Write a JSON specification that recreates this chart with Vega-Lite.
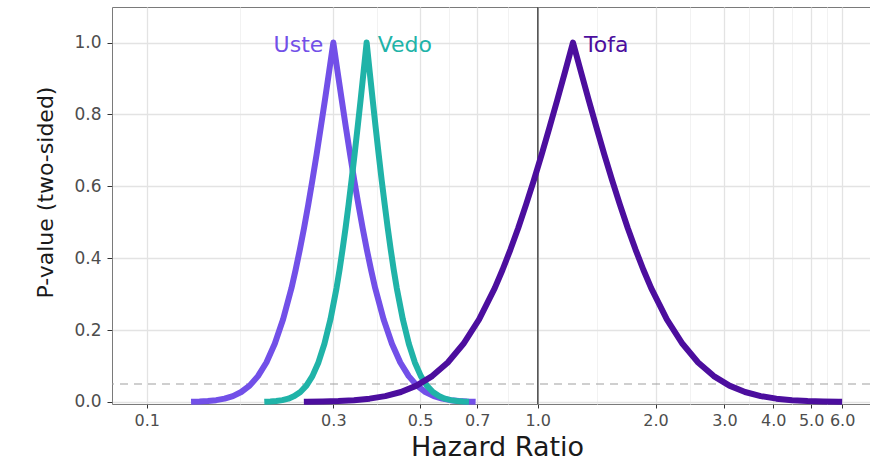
{
  "$schema": "https://vega.github.io/schema/vega-lite/v6.json",
  "width": 758,
  "height": 397,
  "autosize": {"type": "none"},
  "padding": {"left": 112, "top": 7, "right": 0, "bottom": 58},
  "background": "white",
  "config": {
    "font": "DejaVu Sans",
    "view": {"stroke": "#7a7a7a", "strokeWidth": 1}
  },
  "datasets": {
    "curves": [
      {"drug": "Uste", "hr": 0.1298, "p": 0.0007},
      {"drug": "Uste", "hr": 0.1364, "p": 0.0014},
      {"drug": "Uste", "hr": 0.1433, "p": 0.0027},
      {"drug": "Uste", "hr": 0.1505, "p": 0.0051},
      {"drug": "Uste", "hr": 0.1581, "p": 0.0093},
      {"drug": "Uste", "hr": 0.1661, "p": 0.0164},
      {"drug": "Uste", "hr": 0.1744, "p": 0.0278},
      {"drug": "Uste", "hr": 0.1833, "p": 0.0455},
      {"drug": "Uste", "hr": 0.1925, "p": 0.072},
      {"drug": "Uste", "hr": 0.2023, "p": 0.110},
      {"drug": "Uste", "hr": 0.2125, "p": 0.162},
      {"drug": "Uste", "hr": 0.2232, "p": 0.230},
      {"drug": "Uste", "hr": 0.2345, "p": 0.317},
      {"drug": "Uste", "hr": 0.2403, "p": 0.368},
      {"drug": "Uste", "hr": 0.2463, "p": 0.424},
      {"drug": "Uste", "hr": 0.2525, "p": 0.484},
      {"drug": "Uste", "hr": 0.2588, "p": 0.549},
      {"drug": "Uste", "hr": 0.2652, "p": 0.617},
      {"drug": "Uste", "hr": 0.2719, "p": 0.689},
      {"drug": "Uste", "hr": 0.2786, "p": 0.764},
      {"drug": "Uste", "hr": 0.2856, "p": 0.841},
      {"drug": "Uste", "hr": 0.2927, "p": 0.920},
      {"drug": "Uste", "hr": 0.3, "p": 1.0},
      {"drug": "Uste", "hr": 0.3075, "p": 0.920},
      {"drug": "Uste", "hr": 0.3152, "p": 0.841},
      {"drug": "Uste", "hr": 0.3230, "p": 0.764},
      {"drug": "Uste", "hr": 0.3311, "p": 0.689},
      {"drug": "Uste", "hr": 0.3393, "p": 0.617},
      {"drug": "Uste", "hr": 0.3478, "p": 0.549},
      {"drug": "Uste", "hr": 0.3565, "p": 0.484},
      {"drug": "Uste", "hr": 0.3654, "p": 0.424},
      {"drug": "Uste", "hr": 0.3745, "p": 0.368},
      {"drug": "Uste", "hr": 0.3838, "p": 0.317},
      {"drug": "Uste", "hr": 0.4032, "p": 0.230},
      {"drug": "Uste", "hr": 0.4236, "p": 0.162},
      {"drug": "Uste", "hr": 0.4450, "p": 0.110},
      {"drug": "Uste", "hr": 0.4675, "p": 0.072},
      {"drug": "Uste", "hr": 0.4910, "p": 0.0455},
      {"drug": "Uste", "hr": 0.5159, "p": 0.0278},
      {"drug": "Uste", "hr": 0.5420, "p": 0.0164},
      {"drug": "Uste", "hr": 0.5693, "p": 0.0093},
      {"drug": "Uste", "hr": 0.5981, "p": 0.0051},
      {"drug": "Uste", "hr": 0.6282, "p": 0.0027},
      {"drug": "Uste", "hr": 0.6599, "p": 0.0014},
      {"drug": "Uste", "hr": 0.6933, "p": 0.0007},
      {"drug": "Vedo", "hr": 0.1998, "p": 0.0007},
      {"drug": "Vedo", "hr": 0.2070, "p": 0.0014},
      {"drug": "Vedo", "hr": 0.2144, "p": 0.0027},
      {"drug": "Vedo", "hr": 0.2222, "p": 0.0051},
      {"drug": "Vedo", "hr": 0.2302, "p": 0.0093},
      {"drug": "Vedo", "hr": 0.2385, "p": 0.0164},
      {"drug": "Vedo", "hr": 0.2471, "p": 0.0278},
      {"drug": "Vedo", "hr": 0.2560, "p": 0.0455},
      {"drug": "Vedo", "hr": 0.2652, "p": 0.072},
      {"drug": "Vedo", "hr": 0.2748, "p": 0.110},
      {"drug": "Vedo", "hr": 0.2847, "p": 0.162},
      {"drug": "Vedo", "hr": 0.2950, "p": 0.230},
      {"drug": "Vedo", "hr": 0.3057, "p": 0.317},
      {"drug": "Vedo", "hr": 0.3112, "p": 0.368},
      {"drug": "Vedo", "hr": 0.3167, "p": 0.424},
      {"drug": "Vedo", "hr": 0.3224, "p": 0.484},
      {"drug": "Vedo", "hr": 0.3282, "p": 0.549},
      {"drug": "Vedo", "hr": 0.3340, "p": 0.617},
      {"drug": "Vedo", "hr": 0.3400, "p": 0.689},
      {"drug": "Vedo", "hr": 0.3461, "p": 0.764},
      {"drug": "Vedo", "hr": 0.3523, "p": 0.841},
      {"drug": "Vedo", "hr": 0.3586, "p": 0.920},
      {"drug": "Vedo", "hr": 0.365, "p": 1.0},
      {"drug": "Vedo", "hr": 0.3715, "p": 0.920},
      {"drug": "Vedo", "hr": 0.3782, "p": 0.841},
      {"drug": "Vedo", "hr": 0.3849, "p": 0.764},
      {"drug": "Vedo", "hr": 0.3918, "p": 0.689},
      {"drug": "Vedo", "hr": 0.3988, "p": 0.617},
      {"drug": "Vedo", "hr": 0.4060, "p": 0.549},
      {"drug": "Vedo", "hr": 0.4133, "p": 0.484},
      {"drug": "Vedo", "hr": 0.4206, "p": 0.424},
      {"drug": "Vedo", "hr": 0.4281, "p": 0.368},
      {"drug": "Vedo", "hr": 0.4358, "p": 0.317},
      {"drug": "Vedo", "hr": 0.4517, "p": 0.230},
      {"drug": "Vedo", "hr": 0.4679, "p": 0.162},
      {"drug": "Vedo", "hr": 0.4848, "p": 0.110},
      {"drug": "Vedo", "hr": 0.5023, "p": 0.072},
      {"drug": "Vedo", "hr": 0.5203, "p": 0.0455},
      {"drug": "Vedo", "hr": 0.5391, "p": 0.0278},
      {"drug": "Vedo", "hr": 0.5585, "p": 0.0164},
      {"drug": "Vedo", "hr": 0.5787, "p": 0.0093},
      {"drug": "Vedo", "hr": 0.5996, "p": 0.0051},
      {"drug": "Vedo", "hr": 0.6213, "p": 0.0027},
      {"drug": "Vedo", "hr": 0.6437, "p": 0.0014},
      {"drug": "Vedo", "hr": 0.6669, "p": 0.0007},
      {"drug": "Tofa", "hr": 0.2522, "p": 0.0006},
      {"drug": "Tofa", "hr": 0.2570, "p": 0.0007},
      {"drug": "Tofa", "hr": 0.2818, "p": 0.0014},
      {"drug": "Tofa", "hr": 0.3090, "p": 0.0027},
      {"drug": "Tofa", "hr": 0.3388, "p": 0.0051},
      {"drug": "Tofa", "hr": 0.3715, "p": 0.0093},
      {"drug": "Tofa", "hr": 0.4073, "p": 0.0164},
      {"drug": "Tofa", "hr": 0.4466, "p": 0.0278},
      {"drug": "Tofa", "hr": 0.4897, "p": 0.0455},
      {"drug": "Tofa", "hr": 0.5369, "p": 0.072},
      {"drug": "Tofa", "hr": 0.5887, "p": 0.110},
      {"drug": "Tofa", "hr": 0.6455, "p": 0.162},
      {"drug": "Tofa", "hr": 0.7078, "p": 0.230},
      {"drug": "Tofa", "hr": 0.7761, "p": 0.317},
      {"drug": "Tofa", "hr": 0.8126, "p": 0.368},
      {"drug": "Tofa", "hr": 0.8510, "p": 0.424},
      {"drug": "Tofa", "hr": 0.8911, "p": 0.484},
      {"drug": "Tofa", "hr": 0.9330, "p": 0.549},
      {"drug": "Tofa", "hr": 0.9770, "p": 0.617},
      {"drug": "Tofa", "hr": 1.0231, "p": 0.689},
      {"drug": "Tofa", "hr": 1.0713, "p": 0.764},
      {"drug": "Tofa", "hr": 1.1217, "p": 0.841},
      {"drug": "Tofa", "hr": 1.1747, "p": 0.920},
      {"drug": "Tofa", "hr": 1.23, "p": 1.0},
      {"drug": "Tofa", "hr": 1.2879, "p": 0.920},
      {"drug": "Tofa", "hr": 1.3487, "p": 0.841},
      {"drug": "Tofa", "hr": 1.4123, "p": 0.764},
      {"drug": "Tofa", "hr": 1.4788, "p": 0.689},
      {"drug": "Tofa", "hr": 1.5485, "p": 0.617},
      {"drug": "Tofa", "hr": 1.6215, "p": 0.549},
      {"drug": "Tofa", "hr": 1.6979, "p": 0.484},
      {"drug": "Tofa", "hr": 1.7778, "p": 0.424},
      {"drug": "Tofa", "hr": 1.8617, "p": 0.368},
      {"drug": "Tofa", "hr": 1.9494, "p": 0.317},
      {"drug": "Tofa", "hr": 2.1375, "p": 0.230},
      {"drug": "Tofa", "hr": 2.3438, "p": 0.162},
      {"drug": "Tofa", "hr": 2.5698, "p": 0.110},
      {"drug": "Tofa", "hr": 2.8178, "p": 0.072},
      {"drug": "Tofa", "hr": 3.0896, "p": 0.0455},
      {"drug": "Tofa", "hr": 3.3877, "p": 0.0278},
      {"drug": "Tofa", "hr": 3.7146, "p": 0.0164},
      {"drug": "Tofa", "hr": 4.0729, "p": 0.0093},
      {"drug": "Tofa", "hr": 4.4659, "p": 0.0051},
      {"drug": "Tofa", "hr": 4.8968, "p": 0.0027},
      {"drug": "Tofa", "hr": 5.3692, "p": 0.0014},
      {"drug": "Tofa", "hr": 5.8871, "p": 0.0007},
      {"drug": "Tofa", "hr": 6.0, "p": 0.0006}
    ],
    "labels": [
      {"drug": "Uste", "hr": 0.3, "p": 1.0},
      {"drug": "Vedo", "hr": 0.365, "p": 1.0},
      {"drug": "Tofa", "hr": 1.23, "p": 1.0}
    ]
  },
  "layer": [
    {
      "data": {"values": [{}]},
      "mark": {"type": "rule", "color": "#a0a0a0", "strokeWidth": 1.2, "strokeDash": [8, 6]},
      "encoding": {"y": {"datum": 0.05, "type": "quantitative", "title": "P-value (two-sided)"}}
    },
    {
      "data": {"values": [{}]},
      "mark": {"type": "rule", "color": "#555555", "strokeWidth": 1.6},
      "encoding": {"x": {"datum": 1, "type": "quantitative", "title": "Hazard Ratio"}}
    },
    {
      "data": {"name": "curves"},
      "mark": {"type": "line", "strokeWidth": 6, "strokeJoin": "round", "strokeCap": "butt"},
      "encoding": {
        "x": {
          "field": "hr",
          "type": "quantitative",
          "title": "Hazard Ratio",
          "scale": {"type": "log", "domain": [0.0815, 7.07], "nice": false},
          "axis": {
            "values": [0.1, 0.1732, 0.3, 0.3873, 0.5, 0.5916, 0.7, 0.8367, 1, 1.4142, 2, 2.4495, 3, 3.4641, 4, 4.4721, 5, 5.4772, 6],
            "labelExpr": "abs(datum.value*10 - round(datum.value*10)) < 0.001 ? format(datum.value, '.1f') : ''",
            "labelOverlap": false,
            "labelFlush": false,
            "labelFontSize": 16,
            "labelColor": "#4d4d4d",
            "labelPadding": 4,
            "tickSize": 4,
            "tickColor": "#333333",
            "tickOpacity": {"condition": {"test": "abs(datum.value*10 - round(datum.value*10)) < 0.001", "value": 1}, "value": 0},
            "domain": false,
            "grid": true,
            "gridColor": {"condition": {"test": "abs(datum.value*10 - round(datum.value*10)) < 0.001", "value": "#e3e3e3"}, "value": "#f0f0f0"},
            "gridWidth": {"condition": {"test": "abs(datum.value*10 - round(datum.value*10)) < 0.001", "value": 1.3}, "value": 0.9},
            "titleFontSize": 27,
            "titleFontWeight": "normal",
            "titleColor": "#1a1a1a",
            "titleBaseline": "alphabetic",
            "titleAlign": "center",
            "titleX": 385,
            "titleY": 51
          }
        },
        "y": {
          "field": "p",
          "type": "quantitative",
          "title": "P-value (two-sided)",
          "scale": {"domain": [-0.0056, 1.099], "nice": false, "zero": false},
          "axis": {
            "values": [0, 0.1, 0.2, 0.3, 0.4, 0.5, 0.6, 0.7, 0.8, 0.9, 1.0],
            "labelExpr": "abs(datum.value*5 - round(datum.value*5)) < 0.001 ? format(datum.value, '.1f') : ''",
            "labelOverlap": false,
            "labelFlush": false,
            "labelFontSize": 17,
            "labelColor": "#4d4d4d",
            "labelPadding": 6,
            "tickSize": 5,
            "tickColor": "#333333",
            "tickOpacity": {"condition": {"test": "abs(datum.value*5 - round(datum.value*5)) < 0.001", "value": 1}, "value": 0},
            "domain": false,
            "grid": true,
            "gridColor": {"condition": {"test": "abs(datum.value*5 - round(datum.value*5)) < 0.001", "value": "#e3e3e3"}, "value": "#f0f0f0"},
            "gridWidth": {"condition": {"test": "abs(datum.value*5 - round(datum.value*5)) < 0.001", "value": 1.3}, "value": 0.9},
            "titleFontSize": 22,
            "titleFontWeight": "normal",
            "titleColor": "#1a1a1a",
            "titleBaseline": "alphabetic",
            "titleAlign": "center",
            "titleAngle": -90,
            "titleX": -60,
            "titleY": 185
          }
        },
        "color": {
          "field": "drug",
          "type": "nominal",
          "scale": {"domain": ["Uste", "Vedo", "Tofa"], "range": ["#7250e8", "#20b3a8", "#4c0e9e"]},
          "legend": null
        }
      }
    },
    {
      "data": {"name": "labels"},
      "transform": [{"filter": "datum.drug == 'Uste'"}],
      "mark": {"type": "text", "align": "right", "baseline": "alphabetic", "dx": -10, "dy": 9, "fontSize": 22},
      "encoding": {
        "x": {"field": "hr", "type": "quantitative", "title": "Hazard Ratio"},
        "y": {"field": "p", "type": "quantitative", "title": "P-value (two-sided)"},
        "text": {"field": "drug"},
        "color": {"field": "drug", "type": "nominal", "legend": null}
      }
    },
    {
      "data": {"name": "labels"},
      "transform": [{"filter": "datum.drug != 'Uste'"}],
      "mark": {"type": "text", "align": "left", "baseline": "alphabetic", "dx": 11, "dy": 9, "fontSize": 22},
      "encoding": {
        "x": {"field": "hr", "type": "quantitative", "title": "Hazard Ratio"},
        "y": {"field": "p", "type": "quantitative", "title": "P-value (two-sided)"},
        "text": {"field": "drug"},
        "color": {"field": "drug", "type": "nominal", "legend": null}
      }
    }
  ]
}
